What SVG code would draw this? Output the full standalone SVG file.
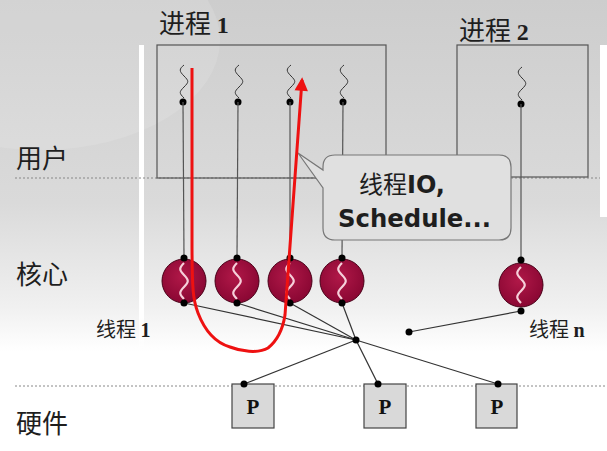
<svg xmlns="http://www.w3.org/2000/svg" width="607" height="451" viewBox="0 0 607 451">
<defs>
  <linearGradient id="bg" x1="0" y1="0" x2="0" y2="1">
    <stop offset="0" stop-color="#cdcdcd"/>
    <stop offset="0.45" stop-color="#dadada"/>
    <stop offset="0.68" stop-color="#f0f0f0"/>
    <stop offset="0.78" stop-color="#ffffff"/>
    <stop offset="1" stop-color="#ffffff"/>
  </linearGradient>
  <radialGradient id="kt" cx="0.45" cy="0.4" r="0.6">
    <stop offset="0" stop-color="#b01848"/>
    <stop offset="1" stop-color="#8a0733"/>
  </radialGradient>
  <linearGradient id="wbar" x1="0" y1="0" x2="0" y2="1">
    <stop offset="0" stop-color="#ffffff"/>
    <stop offset="0.85" stop-color="#ffffff"/>
    <stop offset="1" stop-color="#ffffff" stop-opacity="0"/>
  </linearGradient>
  <path id="sq" d="M1,0 c-5,4 -5,6 0,11 s5,6 0,11 s-5,6 0,11"/>
  <path id="wsq" d="M0,-18 c-5,5 -5,7 0,12 s5,7 0,12 s-5,7 0,12"/>
  <marker id="ah" viewBox="0 0 10 10" refX="8" refY="5" markerWidth="5" markerHeight="4.5" orient="auto" markerUnits="strokeWidth">
    <path d="M0,0 L10,5 L0,10 z" fill="#ee1111"/>
  </marker>
  <style>
    .cjk{font-family:"Noto Sans CJK SC","Liberation Sans",sans-serif;fill:#1e1e1e}
    .num{font-family:"Liberation Serif",serif;font-weight:bold}
    .sq{fill:none;stroke:#333;stroke-width:1}
    .tl{stroke:#555;stroke-width:1.2;fill:none}
    .box{fill:none;stroke:#555;stroke-width:1.2}
    .sep{stroke:#888;stroke-width:1;stroke-dasharray:2,2}
    .dot{fill:#000}
    .ktc{fill:url(#kt);stroke:#4a0018;stroke-width:1}
    .wsq{fill:none;stroke:#f6d0da;stroke-width:2.2}
    .cn{stroke:#333;stroke-width:1.2;fill:none}
    .pb{fill:#d9d9d9;stroke:#444;stroke-width:1.2}
    .pt{font-family:"Liberation Serif",serif;font-weight:bold;font-size:21px;fill:#111}
    .ct{font-family:"DejaVu Sans","Noto Sans CJK SC",sans-serif;font-weight:bold;font-size:24px;fill:#1e1e1e}
  </style>
</defs>
<rect x="0" y="0" width="607" height="451" fill="url(#bg)"/>
<ellipse cx="40" cy="40" rx="180" ry="110" fill="#ffffff" opacity="0.12"/>
<rect x="139" y="45" width="5" height="320" fill="url(#wbar)"/>
<rect x="600" y="45" width="7" height="172" fill="#ffffff"/>

<!-- separators -->
<line class="sep" x1="15" y1="178" x2="600" y2="178"/>
<line class="sep" x1="15" y1="386" x2="607" y2="386"/>

<!-- layer labels -->
<g id="labels">
  <text class="cjk" x="16" y="168" font-size="26">用户</text>
  <text class="cjk" x="16" y="284" font-size="26">核心</text>
  <text class="cjk" x="16" y="433" font-size="26">硬件</text>
  <text class="cjk" x="96" y="337" font-size="20">线程 <tspan class="num" font-size="20">1</tspan></text>
  <text class="cjk" x="529" y="337" font-size="20">线程 <tspan class="num" font-size="20">n</tspan></text>
</g>

<!-- process 1 -->
<g id="process1">
  <text class="cjk" x="159" y="33" font-size="26">进程 <tspan class="num" font-size="24">1</tspan></text>
  <rect class="box" x="157" y="45" width="229" height="133"/>
  <use href="#sq" class="sq" x="183" y="65"/>
  <use href="#sq" class="sq" x="238" y="65"/>
  <use href="#sq" class="sq" x="290" y="65"/>
  <use href="#sq" class="sq" x="343" y="65"/>
  <circle class="dot" cx="183" cy="102" r="3.5"/>
  <circle class="dot" cx="238" cy="102" r="3.5"/>
  <circle class="dot" cx="290" cy="102" r="3.5"/>
  <circle class="dot" cx="343" cy="102" r="3.5"/>
</g>

<!-- process 2 -->
<g id="process2">
  <text class="cjk" x="459" y="40" font-size="26">进程 <tspan class="num" font-size="24">2</tspan></text>
  <rect class="box" x="457" y="45" width="131" height="132"/>
  <use href="#sq" class="sq" x="521" y="67"/>
  <circle class="dot" cx="521" cy="104" r="3.5"/>
</g>

<!-- connectors -->
<g id="connectors">
  <line class="tl" x1="183" y1="102" x2="184" y2="258"/>
  <line class="tl" x1="238" y1="102" x2="237" y2="258"/>
  <line class="tl" x1="290" y1="102" x2="290" y2="258"/>
  <line class="tl" x1="343" y1="102" x2="342" y2="258"/>
  <line class="tl" x1="521" y1="104" x2="521" y2="259"/>
  <line class="cn" x1="184" y1="303" x2="356" y2="340"/>
  <line class="cn" x1="237" y1="303" x2="356" y2="340"/>
  <line class="cn" x1="290" y1="303" x2="356" y2="340"/>
  <line class="cn" x1="342" y1="303" x2="356" y2="340"/>
  <line class="cn" x1="356" y1="340" x2="244" y2="384"/>
  <line class="cn" x1="356" y1="340" x2="378" y2="384"/>
  <line class="cn" x1="356" y1="340" x2="498" y2="384"/>
  <line class="cn" x1="409" y1="332" x2="521" y2="311"/>
  <circle class="dot" cx="356" cy="340" r="3.5"/>
  <circle class="dot" cx="409" cy="332" r="3.5"/>
</g>

<!-- kernel threads -->
<g id="kt1">
  <circle class="ktc" cx="184" cy="281" r="22"/>
  <use href="#wsq" class="wsq" x="184" y="281"/>
  <circle class="dot" cx="184" cy="258" r="3.5"/>
  <circle class="dot" cx="184" cy="303" r="3.5"/>
</g>
<g id="kt2">
  <circle class="ktc" cx="237" cy="281" r="22"/>
  <use href="#wsq" class="wsq" x="237" y="281"/>
  <circle class="dot" cx="237" cy="258" r="3.5"/>
  <circle class="dot" cx="237" cy="303" r="3.5"/>
</g>
<g id="kt3">
  <circle class="ktc" cx="290" cy="281" r="22"/>
  <use href="#wsq" class="wsq" x="290" y="281"/>
  <circle class="dot" cx="290" cy="258" r="3.5"/>
  <circle class="dot" cx="290" cy="303" r="3.5"/>
</g>
<g id="kt4">
  <circle class="ktc" cx="342" cy="281" r="22"/>
  <use href="#wsq" class="wsq" x="342" y="281"/>
  <circle class="dot" cx="342" cy="258" r="3.5"/>
  <circle class="dot" cx="342" cy="303" r="3.5"/>
</g>
<g id="ktn">
  <circle class="ktc" cx="521" cy="285" r="22"/>
  <use href="#wsq" class="wsq" x="521" y="285"/>
  <circle class="dot" cx="521" cy="260" r="3.5"/>
  <circle class="dot" cx="521" cy="311" r="3.5"/>
</g>

<!-- processors -->
<g id="p1">
  <rect class="pb" x="232" y="384" width="42" height="44"/>
  <text class="pt" x="253" y="414" text-anchor="middle">P</text>
  <circle class="dot" cx="244" cy="384" r="3.5"/>
</g>
<g id="p2">
  <rect class="pb" x="364" y="384" width="42" height="44"/>
  <text class="pt" x="385" y="414" text-anchor="middle">P</text>
  <circle class="dot" cx="378" cy="384" r="3.5"/>
</g>
<g id="p3">
  <rect class="pb" x="476" y="384" width="41" height="44"/>
  <text class="pt" x="497" y="414" text-anchor="middle">P</text>
  <circle class="dot" cx="498" cy="384" r="3.5"/>
</g>

<!-- callout -->
<g id="callout">
  <path d="M335,155 H499 Q511,155 511,167 V228 Q511,240 499,240 H335 Q323,240 323,228 V188 L298,153 L323,170 V167 Q323,155 335,155 Z" fill="#e0e0e0" stroke="#777" stroke-width="1.2"/>
  <text class="ct" x="359" y="193"><tspan font-family="Noto Sans CJK SC" font-weight="normal">线程</tspan>IO,</text>
  <text class="ct" x="338" y="227" textLength="153" lengthAdjust="spacingAndGlyphs">Schedule...</text>
</g>

<!-- red flow arrow -->
<g id="flow">
  <path d="M192,68 L192,240 C192,290 193,300 198,313 C203,326 213,342 230,347 C240,351 258,354 268,348 C278,340 283,328 285,315 L302,80" fill="none" stroke="#ee1111" stroke-width="3" marker-end="url(#ah)"/>
</g>
</svg>
